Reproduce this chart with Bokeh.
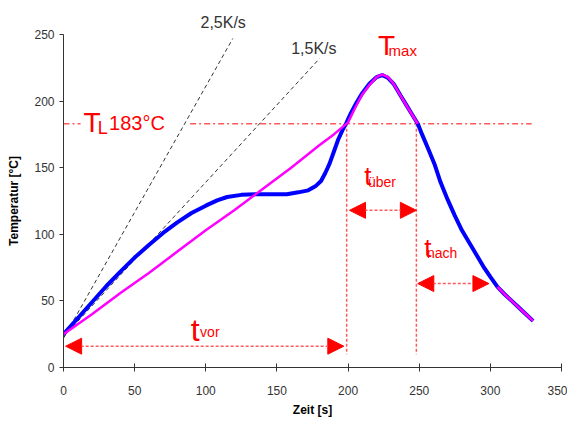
from bokeh.plotting import figure
from bokeh.models import Range1d, Label, Arrow, NormalHead, ColumnDataSource, FixedTicker, Title
from bokeh.embed import file_html
from bokeh.resources import INLINE

nan = float("nan")

# Actual profile (blue)
blue_x = [0, 10, 20, 30, 40, 50, 60, 70, 80, 90, 100, 108, 115, 125, 135, 145, 157, 165, 172, 177,
          181, 184, 187, 190, 193, 196, 199, 202, 206, 210, 215, 220, 224, 228, 232, 237, 241, 245,
          249, 252, 256, 261, 265, 270, 275, 280, 285, 290, 295, 300, 305, 310, 315, 320, 325, 330]
blue_y = [25, 37, 49, 61, 72, 82.5, 92, 101, 109, 116, 121.5, 125.5, 128, 129.6, 130, 130, 130, 131.5, 133, 136,
          140, 146, 153, 162, 171, 178, 184, 191, 199, 206, 213, 218, 219.5, 217.5, 213, 204, 197, 190,
          183, 175, 165, 152, 139, 126, 114, 103, 94, 85, 76, 68, 60.5, 55, 50, 45, 40, 35]

# Target profile (magenta) - with a gap where it is hidden
mag_x = [0, 20, 40, 60, 80, 100, 120, 140, 160, 180, 190, 200, 205, 210, 215, 220, 224, 228, 232, 237, 242, 249,
         nan, 305, 310, 315, 320, 325, 330]
mag_y = [25, 40, 56, 71, 87, 103, 118, 134, 150, 167, 175, 184, 195, 205, 212, 218, 220, 218, 213, 204, 195, 183,
         nan, 60.5, 55, 50, 45, 40, 35]

# Heating-rate reference lines
rate25_x = [0, 119]
rate25_y = [22, 247]
rate15_x = [0, 180]
rate15_y = [23, 232]

# Liquidus line (split around its label)
tl_x = [0, 12, nan, 89, 329]
tl_y = [183, 183, nan, 183, 183]

# Vertical markers
vline_x = [199, 248]
vline_y0 = [183, 183]
vline_y1 = [10, 10]

# Time interval arrows (t_vor, t_über, t_nach)
arrow_x0 = [1.5, 201, 249]
arrow_x1 = [197, 248, 299]
arrow_y = [16, 118, 63]

x_ticks = [0, 50, 100, 150, 200, 250, 300, 350]
y_ticks = [0, 50, 100, 150, 200, 250]

p = figure(width=567, height=421, output_backend="svg", toolbar_location=None,
           x_range=Range1d(0, 350), y_range=Range1d(0, 250),
           min_border_left=63, min_border_right=6, min_border_top=34, min_border_bottom=54)
p.outline_line_color = None
p.xgrid.visible = False
p.ygrid.visible = False
p.background_fill_color = "white"

for ax in (p.xaxis[0], p.yaxis[0]):
    ax.axis_line_color = "#333333"
    ax.major_tick_line_color = "#333333"
    ax.minor_tick_line_color = None
    ax.major_label_text_font = "Liberation Sans"
    ax.major_label_text_font_size = "12px"
    ax.major_label_text_color = "#333333"
    ax.axis_label_text_font = "Liberation Sans"
    ax.axis_label_text_font_size = "12px"
    ax.axis_label_text_font_style = "bold"
    ax.axis_label_text_color = "black"

p.xaxis.ticker = FixedTicker(ticks=x_ticks)
p.yaxis.ticker = FixedTicker(ticks=y_ticks)
p.xaxis.major_tick_in = 4
p.xaxis.major_tick_out = 4
p.yaxis.major_tick_in = 0
p.yaxis.major_tick_out = 4
p.xaxis.major_label_standoff = 14
p.yaxis.major_label_standoff = 5
p.xaxis.axis_label = "Zeit [s]"
p.yaxis.axis_label = "Temperatur [°C]"
p.xaxis.axis_label_standoff = 5
p.yaxis.axis_label_standoff = 10

# rate label outside of the frame
t25 = Title(text="2,5K/s", align="left", offset=137, standoff=7, text_font="Liberation Sans",
            text_font_size="16px", text_font_style="normal", text_color="#333333")
p.add_layout(t25, "above")

# reference lines
p.line(rate25_x, rate25_y, line_color="#333333", line_dash="4 3", line_width=1)
p.line(rate15_x, rate15_y, line_color="#333333", line_dash="4 3", line_width=1)

red_l = "#ff5a5a"
p.line(tl_x, tl_y, line_color=red_l, line_dash="6 3 2 3", line_width=1.5)
p.segment(x0=vline_x, y0=vline_y0, x1=vline_x, y1=vline_y1, line_color=red_l, line_dash="3 2", line_width=1.5)

# curves
p.line(blue_x, blue_y, line_color="#0000ff", line_width=4)
p.line(mag_x, mag_y, line_color="#ff00ff", line_width=2.5)

# arrows
asrc = ColumnDataSource(dict(x0=arrow_x0, x1=arrow_x1, y=arrow_y))
p.add_layout(Arrow(start=NormalHead(size=16, fill_color="red", line_color="red"),
                   end=NormalHead(size=16, fill_color="red", line_color="red"),
                   x_start="x0", y_start="y", x_end="x1", y_end="y", source=asrc,
                   line_color=red_l, line_dash="3 2", line_width=1.5))

def lab(x, y, t, size, color="red"):
    p.add_layout(Label(x=x, y=y, text=t, text_font="Liberation Sans", text_font_size=size,
                       text_color=color, text_baseline="alphabetic", text_align="left"))

lab(160, 239.3, "1,5K/s", "16px", "#333333")
lab(221, 241.7, "T", "28px")
lab(228.5, 238.2, "max", "15px")
lab(14, 184, "T", "28px")
lab(24, 180, "L", "18px")
lab(32, 183.3, "183°C", "20px")
lab(89.4, 28, "t", "32px")
lab(96, 26.5, "vor", "14px")
lab(211.3, 144, "t", "26px")
lab(214, 139, "über", "14px")
lab(253.5, 90, "t", "26px")
lab(255.5, 86.3, "nach", "14px")

open("out.html", "w").write(file_html(p, INLINE))
